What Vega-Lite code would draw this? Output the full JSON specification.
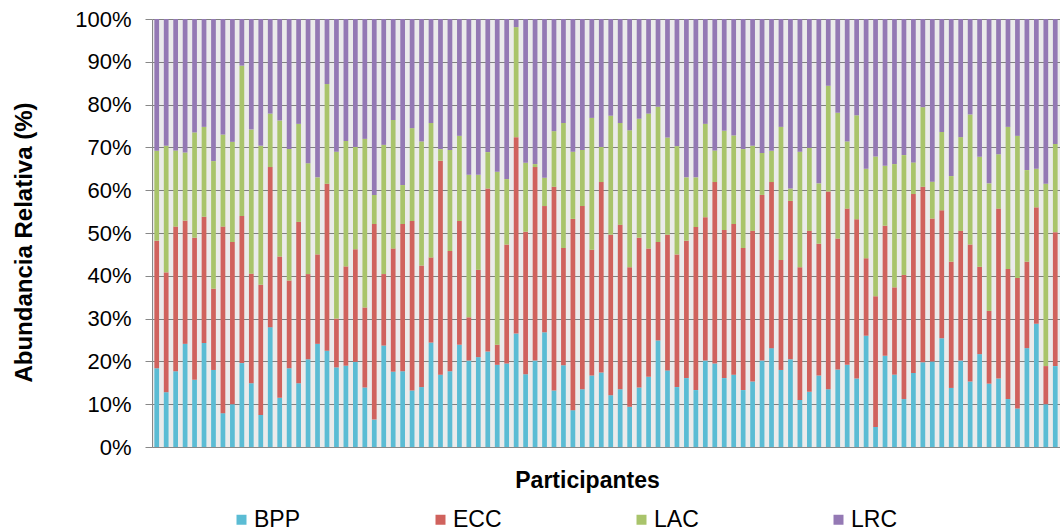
{
  "$schema": "https://vega.github.io/schema/vega-lite/v6.json",
  "width": 908,
  "height": 428,
  "autosize": {"type": "none"},
  "padding": {"left": 152, "top": 19, "right": 0, "bottom": 84},
  "background": "white",
  "config": {
    "font": "Liberation Sans",
    "view": {"stroke": null, "fill": "#ebebeb"}
  },
  "data": {
    "values": [
      {"p":1,"BPP":18.4,"ECC":29.8,"LAC":21.0,"LRC":30.8},
      {"p":2,"BPP":12.8,"ECC":28.0,"LAC":29.6,"LRC":29.6},
      {"p":3,"BPP":17.7,"ECC":33.8,"LAC":17.8,"LRC":30.7},
      {"p":4,"BPP":24.1,"ECC":28.8,"LAC":15.9,"LRC":31.2},
      {"p":5,"BPP":15.7,"ECC":33.2,"LAC":24.6,"LRC":26.5},
      {"p":6,"BPP":24.3,"ECC":29.5,"LAC":21.0,"LRC":25.2},
      {"p":7,"BPP":18.0,"ECC":19.0,"LAC":29.8,"LRC":33.2},
      {"p":8,"BPP":7.9,"ECC":43.6,"LAC":21.5,"LRC":27.0},
      {"p":9,"BPP":10.0,"ECC":37.9,"LAC":23.4,"LRC":28.7},
      {"p":10,"BPP":19.6,"ECC":34.4,"LAC":35.1,"LRC":10.9},
      {"p":11,"BPP":14.9,"ECC":25.6,"LAC":33.7,"LRC":25.8},
      {"p":12,"BPP":7.5,"ECC":30.4,"LAC":32.5,"LRC":29.6},
      {"p":13,"BPP":28.0,"ECC":37.4,"LAC":12.5,"LRC":22.1},
      {"p":14,"BPP":11.5,"ECC":33.0,"LAC":31.8,"LRC":23.7},
      {"p":15,"BPP":18.4,"ECC":20.5,"LAC":30.7,"LRC":30.4},
      {"p":16,"BPP":14.9,"ECC":37.7,"LAC":22.9,"LRC":24.5},
      {"p":17,"BPP":20.5,"ECC":19.9,"LAC":25.9,"LRC":33.7},
      {"p":18,"BPP":24.1,"ECC":20.9,"LAC":18.0,"LRC":37.0},
      {"p":19,"BPP":22.5,"ECC":39.0,"LAC":23.3,"LRC":15.2},
      {"p":20,"BPP":18.6,"ECC":11.4,"LAC":39.0,"LRC":31.0},
      {"p":21,"BPP":19.0,"ECC":23.2,"LAC":29.3,"LRC":28.5},
      {"p":22,"BPP":19.9,"ECC":26.3,"LAC":23.9,"LRC":29.9},
      {"p":23,"BPP":13.9,"ECC":18.7,"LAC":39.4,"LRC":28.0},
      {"p":24,"BPP":6.4,"ECC":45.7,"LAC":6.8,"LRC":41.1},
      {"p":25,"BPP":23.7,"ECC":16.7,"LAC":30.2,"LRC":29.4},
      {"p":26,"BPP":17.6,"ECC":28.8,"LAC":30.0,"LRC":23.6},
      {"p":27,"BPP":17.7,"ECC":34.4,"LAC":9.1,"LRC":38.8},
      {"p":28,"BPP":13.2,"ECC":39.6,"LAC":21.7,"LRC":25.5},
      {"p":29,"BPP":14.0,"ECC":28.4,"LAC":29.0,"LRC":28.6},
      {"p":30,"BPP":24.4,"ECC":19.9,"LAC":31.4,"LRC":24.3},
      {"p":31,"BPP":16.9,"ECC":50.0,"LAC":2.7,"LRC":30.4},
      {"p":32,"BPP":17.7,"ECC":28.1,"LAC":23.6,"LRC":30.6},
      {"p":33,"BPP":23.9,"ECC":28.9,"LAC":19.9,"LRC":27.3},
      {"p":34,"BPP":20.2,"ECC":10.1,"LAC":33.3,"LRC":36.4},
      {"p":35,"BPP":21.0,"ECC":20.4,"LAC":22.2,"LRC":36.4},
      {"p":36,"BPP":22.3,"ECC":38.1,"LAC":8.5,"LRC":31.1},
      {"p":37,"BPP":19.2,"ECC":4.7,"LAC":40.4,"LRC":35.7},
      {"p":38,"BPP":19.5,"ECC":27.8,"LAC":15.3,"LRC":37.4},
      {"p":39,"BPP":26.5,"ECC":45.9,"LAC":25.7,"LRC":1.9},
      {"p":40,"BPP":17.0,"ECC":33.3,"LAC":16.1,"LRC":33.6},
      {"p":41,"BPP":20.2,"ECC":45.2,"LAC":0.7,"LRC":33.9},
      {"p":42,"BPP":26.8,"ECC":29.5,"LAC":6.6,"LRC":37.1},
      {"p":43,"BPP":13.2,"ECC":47.6,"LAC":13.0,"LRC":26.2},
      {"p":44,"BPP":19.1,"ECC":27.4,"LAC":29.2,"LRC":24.3},
      {"p":45,"BPP":8.6,"ECC":44.7,"LAC":15.7,"LRC":31.0},
      {"p":46,"BPP":13.5,"ECC":42.8,"LAC":13.1,"LRC":30.6},
      {"p":47,"BPP":16.7,"ECC":29.4,"LAC":30.8,"LRC":23.1},
      {"p":48,"BPP":17.4,"ECC":44.5,"LAC":8.2,"LRC":29.9},
      {"p":49,"BPP":12.1,"ECC":37.5,"LAC":27.8,"LRC":22.6},
      {"p":50,"BPP":13.5,"ECC":38.4,"LAC":23.8,"LRC":24.3},
      {"p":51,"BPP":9.4,"ECC":32.6,"LAC":32.0,"LRC":26.0},
      {"p":52,"BPP":13.9,"ECC":35.0,"LAC":27.8,"LRC":23.3},
      {"p":53,"BPP":16.4,"ECC":30.0,"LAC":31.5,"LRC":22.1},
      {"p":54,"BPP":24.9,"ECC":23.0,"LAC":31.6,"LRC":20.5},
      {"p":55,"BPP":17.9,"ECC":31.7,"LAC":22.7,"LRC":27.7},
      {"p":56,"BPP":14.0,"ECC":31.0,"LAC":25.3,"LRC":29.7},
      {"p":57,"BPP":16.1,"ECC":32.1,"LAC":14.8,"LRC":37.0},
      {"p":58,"BPP":13.3,"ECC":38.1,"LAC":11.6,"LRC":37.0},
      {"p":59,"BPP":20.2,"ECC":33.5,"LAC":21.8,"LRC":24.5},
      {"p":60,"BPP":19.5,"ECC":42.4,"LAC":7.4,"LRC":30.7},
      {"p":61,"BPP":16.1,"ECC":34.6,"LAC":23.2,"LRC":26.1},
      {"p":62,"BPP":16.9,"ECC":35.2,"LAC":20.7,"LRC":27.2},
      {"p":63,"BPP":13.3,"ECC":33.2,"LAC":23.1,"LRC":30.4},
      {"p":64,"BPP":15.3,"ECC":35.2,"LAC":19.9,"LRC":29.6},
      {"p":65,"BPP":20.2,"ECC":38.7,"LAC":9.8,"LRC":31.3},
      {"p":66,"BPP":23.1,"ECC":38.8,"LAC":7.3,"LRC":30.8},
      {"p":67,"BPP":18.0,"ECC":25.7,"LAC":31.1,"LRC":25.2},
      {"p":68,"BPP":20.5,"ECC":37.0,"LAC":2.9,"LRC":39.6},
      {"p":69,"BPP":11.0,"ECC":31.0,"LAC":27.0,"LRC":31.0},
      {"p":70,"BPP":12.9,"ECC":37.6,"LAC":19.4,"LRC":30.1},
      {"p":71,"BPP":16.7,"ECC":30.8,"LAC":14.1,"LRC":38.4},
      {"p":72,"BPP":13.5,"ECC":46.2,"LAC":24.7,"LRC":15.6},
      {"p":73,"BPP":18.1,"ECC":30.6,"LAC":29.4,"LRC":21.9},
      {"p":74,"BPP":19.2,"ECC":36.5,"LAC":15.7,"LRC":28.6},
      {"p":75,"BPP":16.0,"ECC":37.2,"LAC":24.3,"LRC":22.5},
      {"p":76,"BPP":26.0,"ECC":18.1,"LAC":20.9,"LRC":35.0},
      {"p":77,"BPP":4.7,"ECC":30.5,"LAC":32.7,"LRC":32.1},
      {"p":78,"BPP":21.3,"ECC":30.4,"LAC":14.0,"LRC":34.3},
      {"p":79,"BPP":16.9,"ECC":20.4,"LAC":28.8,"LRC":33.9},
      {"p":80,"BPP":11.2,"ECC":29.0,"LAC":28.0,"LRC":31.8},
      {"p":81,"BPP":17.3,"ECC":41.8,"LAC":7.4,"LRC":33.5},
      {"p":82,"BPP":19.8,"ECC":41.0,"LAC":18.6,"LRC":20.6},
      {"p":83,"BPP":20.0,"ECC":33.4,"LAC":8.6,"LRC":38.0},
      {"p":84,"BPP":25.4,"ECC":29.9,"LAC":18.3,"LRC":26.4},
      {"p":85,"BPP":13.8,"ECC":29.5,"LAC":20.0,"LRC":36.7},
      {"p":86,"BPP":20.2,"ECC":30.3,"LAC":21.9,"LRC":27.6},
      {"p":87,"BPP":15.3,"ECC":32.0,"LAC":30.4,"LRC":22.3},
      {"p":88,"BPP":21.7,"ECC":20.4,"LAC":25.7,"LRC":32.2},
      {"p":89,"BPP":14.8,"ECC":17.0,"LAC":29.8,"LRC":38.4},
      {"p":90,"BPP":16.0,"ECC":39.7,"LAC":12.7,"LRC":31.6},
      {"p":91,"BPP":11.2,"ECC":30.4,"LAC":33.2,"LRC":25.2},
      {"p":92,"BPP":9.0,"ECC":30.5,"LAC":33.2,"LRC":27.3},
      {"p":93,"BPP":23.1,"ECC":20.2,"LAC":21.4,"LRC":35.3},
      {"p":94,"BPP":28.8,"ECC":27.2,"LAC":9.0,"LRC":35.0},
      {"p":95,"BPP":10.0,"ECC":8.9,"LAC":42.6,"LRC":38.5},
      {"p":96,"BPP":18.9,"ECC":31.3,"LAC":20.6,"LRC":29.2}
    ]
  },
  "transform": [
    {"fold": ["BPP", "ECC", "LAC", "LRC"], "as": ["serie", "v"]}
  ],
  "mark": {"type": "bar"},
  "encoding": {
    "x": {
      "field": "p",
      "type": "ordinal",
      "scale": {"paddingInner": 0.5, "paddingOuter": 0.25},
      "axis": {
        "labels": false,
        "ticks": false,
        "domainColor": "#888888",
        "title": "Participantes",
        "titleFont": "Liberation Sans",
        "titleFontSize": 23,
        "titleFontWeight": "bold",
        "titleColor": "#000000",
        "titlePadding": 22,
        "titleX": 435
      }
    },
    "y": {
      "field": "v",
      "type": "quantitative",
      "stack": "zero",
      "scale": {"domain": [0, 100], "nice": false},
      "axis": {
        "values": [0, 10, 20, 30, 40, 50, 60, 70, 80, 90, 100],
        "labelExpr": "datum.value + '%'",
        "labelFont": "Liberation Sans",
        "labelFontSize": 22,
        "labelColor": "#000000",
        "labelPadding": 14,
        "tickSize": 7,
        "tickColor": "#888888",
        "domainColor": "#888888",
        "gridColor": "#808080",
        "gridWidth": 1.2,
        "title": "Abundancia Relativa (%)",
        "titleFont": "Liberation Sans",
        "titleFontSize": 24,
        "titleFontWeight": "bold",
        "titleColor": "#000000",
        "titlePadding": 38,
        "titleY": 223
      }
    },
    "order": {"field": "serie", "type": "nominal", "sort": "ascending"},
    "color": {
      "field": "serie",
      "type": "nominal",
      "scale": {
        "domain": ["BPP", "ECC", "LAC", "LRC"],
        "range": ["#5bbcd4", "#d0625d", "#a9c46b", "#9479b4"]
      },
      "legend": {
        "orient": "none",
        "legendX": 78,
        "legendY": 489,
        "direction": "horizontal",
        "title": null,
        "symbolType": "square",
        "symbolSize": 100,
        "symbolStrokeWidth": 0,
        "labelFont": "Liberation Sans",
        "labelFontSize": 23,
        "labelColor": "#000000",
        "labelOffset": 1,
        "columnPadding": 128
      }
    }
  }
}
